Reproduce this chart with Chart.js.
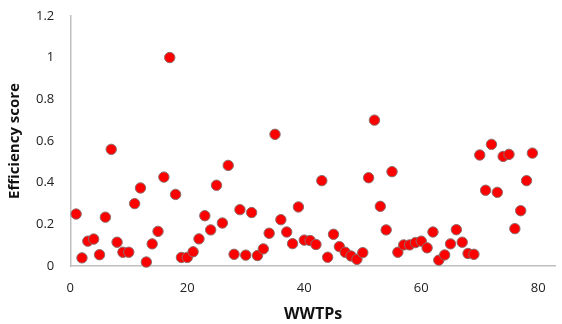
<!DOCTYPE html>
<html>
<head>
<meta charset="utf-8">
<script src="https://cdn.jsdelivr.net/npm/chart.js@4"></script>
<style>
  html, body { margin: 0; padding: 0; background: #fff; }
  #wrap { width: 562px; height: 324px; }
</style>
</head>
<body>
<div id="wrap"><canvas id="effChart"></canvas></div>
<script>
// WWTP index and efficiency score
const plants = [];
for (let i = 1; i <= 79; i++) plants.push(i);
const scores = [
  0.25, 0.04, 0.12, 0.13, 0.055, 0.235, 0.56, 0.115, 0.067, 0.067,
  0.30, 0.375, 0.02, 0.107, 0.167, 0.427, 1.0, 0.344, 0.042, 0.042,
  0.069, 0.131, 0.242, 0.174, 0.388, 0.207, 0.483, 0.057, 0.271, 0.053,
  0.257, 0.051, 0.083, 0.158, 0.632, 0.223, 0.164, 0.108, 0.284, 0.125,
  0.123, 0.104, 0.41, 0.043, 0.153, 0.094, 0.067, 0.049, 0.033, 0.065,
  0.424, 0.70, 0.287, 0.174, 0.453, 0.067, 0.102, 0.102, 0.113, 0.12,
  0.088, 0.164, 0.029, 0.054, 0.107, 0.175, 0.115, 0.061, 0.057, 0.533,
  0.364, 0.584, 0.354, 0.526, 0.536, 0.18, 0.266, 0.41, 0.542
];
const xTicks = [0, 20, 40, 60, 80];
const yTicks = [0, 0.2, 0.4, 0.6, 0.8, 1, 1.2];

const points = plants.map((p, i) => ({ x: p, y: scores[i] }));
const axisGrey = "#bfbfbf";
const font = "Open Sans, Liberation Sans, sans-serif";

new Chart(document.getElementById("effChart"), {
  type: "scatter",
  data: {
    datasets: [{
      data: points,
      backgroundColor: "#ff0000",
      borderColor: "#8c6b6b",
      borderWidth: 1,
      pointRadius: 5.2,
      clip: false
    }]
  },
  options: {
    responsive: true,
    maintainAspectRatio: false,
    animation: false,
    layout: { padding: { top: 10, right: 0, left: 2, bottom: 0 } },
    plugins: { legend: { display: false }, tooltip: { enabled: false } },
    scales: {
      x: {
        type: "linear",
        min: 0,
        max: 83,
        afterBuildTicks: axis => { axis.ticks = xTicks.map(v => ({ value: v })); },
        grid: { display: false },
        border: { display: true, color: axisGrey, width: 1.5 },
        ticks: { color: "#222", font: { family: font, size: 13 }, padding: 6,
                 callback: v => String(v) },
        title: {
          display: true, text: "WWTPs", color: "#111",
          font: { family: font, size: 16, weight: "bold" }, padding: { top: 3, bottom: 0 }
        }
      },
      y: {
        min: 0,
        max: 1.2,
        afterBuildTicks: axis => { axis.ticks = yTicks.map(v => ({ value: v })); },
        grid: { display: false },
        border: { display: true, color: axisGrey, width: 1.5 },
        ticks: { color: "#222", font: { family: font, size: 13 }, padding: 8,
                 callback: v => String(v) },
        title: {
          display: true, text: "Efficiency score", color: "#111",
          font: { family: font, size: 15, weight: "bold" }, padding: { bottom: 4 }
        }
      }
    }
  }
});
</script>
</body>
</html>
